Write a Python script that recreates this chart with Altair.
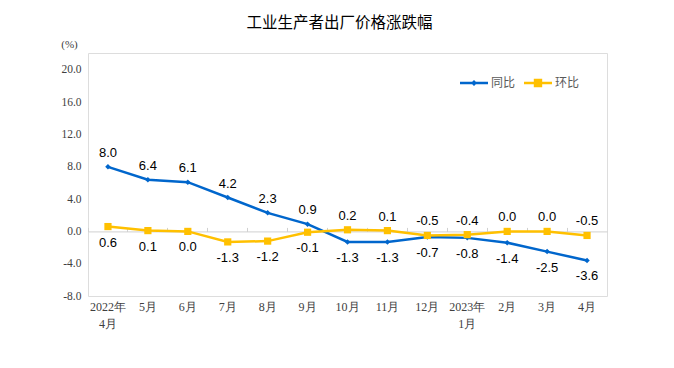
import altair as alt
import pandas as pd

# ---- data ----
months = ["2022年\n4月", "5月", "6月", "7月", "8月", "9月", "10月", "11月",
          "12月", "2023年\n1月", "2月", "3月", "4月"]
yoy = [8.0, 6.4, 6.1, 4.2, 2.3, 0.9, -1.3, -1.3, -0.7, -0.8, -1.4, -2.5, -3.6]
mom = [0.6, 0.1, 0.0, -1.3, -1.2, -0.1, 0.2, 0.1, -0.5, -0.4, 0.0, 0.0, -0.5]
yoy_pos = ["above"] * 6 + ["below"] * 7
mom_pos = ["below"] * 6 + ["above"] * 7
series_names = ["同比", "环比"]
y_ticks = [-8, -4, 0, 4, 8, 12, 16, 20]

BLUE = "#0066CC"
YELLOW = "#FFC000"

rows = []
for m, v, p in zip(months, yoy, yoy_pos):
    rows.append({"month": m, "series": "同比", "value": v, "label": f"{v:.1f}", "pos": p})
for m, v, p in zip(months, mom, mom_pos):
    rows.append({"month": m, "series": "环比", "value": v, "label": f"{v:.1f}", "pos": p})
df = pd.DataFrame(rows)

W, H = 519, 243
YMIN, YMAX = -8, 22.1
zero_px = H * YMAX / (YMAX - YMIN)

xscale = alt.Scale(type="band", domain=months, paddingInner=0, paddingOuter=0)
yscale = alt.Scale(domain=[YMIN, YMAX], nice=False, zero=False)

y_axis = alt.Axis(values=y_ticks, title="(%)", titleAngle=0, titleX=-19,
                  titleY=-9, titleAlign="center", titleBaseline="middle",
                  titleFont="Liberation Serif", titleFontSize=11,
                  titleFontWeight="normal", titleColor="#404040",
                  labelExpr="replace(format(datum.value, '.1f'), '\u2212', '-')",
                  labelFont="Liberation Serif", labelFontSize=11.5,
                  labelColor="#404040", labelPadding=7,
                  domain=False, ticks=False, grid=False)
Y = alt.Y("value:Q", scale=yscale, axis=y_axis)
X_plain = alt.X("month:N", scale=xscale, bandPosition=0.5, axis=None)

blue_sym = "M-1,-0.09H1V0.09H-1Z M0,-0.22L0.22,0L0,0.22L-0.22,0Z"
yellow_sym = "M-1,-0.09H1V0.09H-1Z M-0.3,-0.3H0.3V0.3H-0.3Z"

legend_spec = alt.Legend(
    title=None, orient="none", legendX=372, legendY=16, direction="horizontal",
    symbolSize=784, symbolStrokeWidth=0, symbolOpacity=1, labelFont="Noto Sans CJK SC",
    labelFontSize=12, labelColor="#595959", labelOffset=3, columnPadding=8)
color_scale = alt.Scale(domain=series_names, range=[BLUE, YELLOW])
shape_scale = alt.Scale(domain=series_names, range=[blue_sym, yellow_sym])

base = alt.Chart(df)

# bottom category labels
x_labels = base.mark_point(opacity=0).encode(
    x=alt.X("month:N", scale=xscale,
            axis=alt.Axis(title=None, orient="bottom", domain=False, ticks=False,
                          labelExpr="split(datum.label, '\\n')",
                          labelFont="Liberation Serif", labelFontSize=12,
                          labelColor="#404040", labelPadding=5, labelLineHeight=17,
                          labelAngle=0)),
    y=Y,
)

# zero line with upward ticks at the band boundaries
zero_axis = base.mark_point(opacity=0).encode(
    x=alt.X("month:N", scale=xscale,
            axis=alt.Axis(orient="top", offset=-zero_px, labels=False, title=None,
                          domainColor="#d0d0d0", tickColor="#d0d0d0", tickSize=4,
                          bandPosition=0, domainWidth=1, tickWidth=1)),
    y=Y,
)

lines = base.mark_line(strokeWidth=2.5).encode(
    x=X_plain, y=Y,
    color=alt.Color("series:N", scale=color_scale, legend=legend_spec),
    detail="series:N",
)

yoy_pts = base.transform_filter("datum.series == '同比'").mark_point(
    shape="diamond", filled=True, size=30, color=BLUE, opacity=1
).encode(x=X_plain, y=Y)

mom_pts = base.transform_filter("datum.series == '环比'").mark_square(
    size=52, color=YELLOW, opacity=1
).encode(x=X_plain, y=Y)

labels_above = base.transform_filter("datum.pos == 'above'").mark_text(
    dy=-14, font="Liberation Sans", fontSize=13, color="#000000", baseline="middle"
).encode(x=X_plain, y=Y, text="label:N")

labels_below = base.transform_filter("datum.pos == 'below'").mark_text(
    dy=16, font="Liberation Sans", fontSize=13, color="#000000", baseline="middle"
).encode(x=X_plain, y=Y, text="label:N")

legend_layer = base.transform_filter("false").mark_point(
    filled=True, opacity=1, strokeWidth=0
).encode(
    x=X_plain, y=Y,
    color=alt.Color("series:N", scale=color_scale, legend=legend_spec),
    shape=alt.Shape("series:N", scale=shape_scale, legend=legend_spec),
)

chart = alt.layer(
    x_labels, zero_axis, lines, yoy_pts, mom_pts, labels_above, labels_below, legend_layer
).resolve_axis(x="independent").properties(
    width=W, height=H,
    autosize=alt.AutoSizeParams(type="none"),
    padding={"left": 80, "top": 45, "right": 59, "bottom": 64},
    title=alt.TitleParams("工业生产者出厂价格涨跌幅", font="Noto Sans CJK SC", fontSize=15.5,
                          fontWeight="normal", color="#000000", anchor="middle", dx=-8,
                          offset=7),
).configure_view(stroke="#d9d9d9", strokeWidth=1).configure(background="white")

chart.save("out.html", embed_options={"renderer": "svg", "actions": False})
